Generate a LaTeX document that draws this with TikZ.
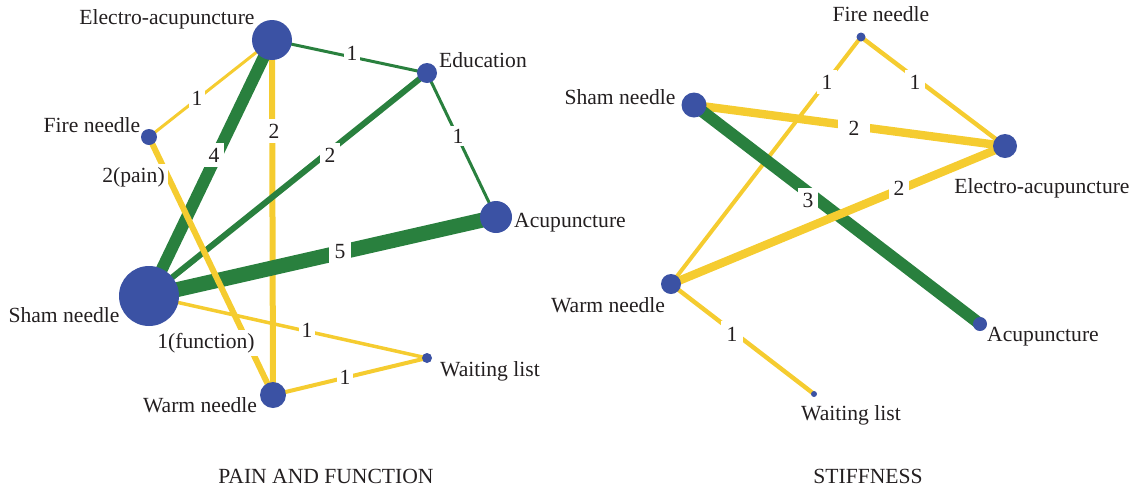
\documentclass[tikz,border=0pt]{standalone}
\usepackage{fontspec}
\setmainfont{Liberation Serif}
\usetikzlibrary{backgrounds}
\definecolor{nodeblue}{RGB}{59,82,164}
\definecolor{edgegreen}{RGB}{41,128,62}
\definecolor{edgeyellow}{RGB}{245,204,48}
\definecolor{txt}{RGB}{35,31,32}
\tikzset{
  dot/.style={circle, fill=nodeblue, draw=none, inner sep=0pt},
  lbl/.style={inner sep=0pt, anchor=base, text=txt},
  elbl/.style={fill=white, inner sep=2.3pt, text=txt},
  ge/.style={draw=edgegreen, line cap=butt},
  ye/.style={draw=edgeyellow, line cap=butt},
}
\begin{document}
\begin{tikzpicture}[x=0.5pt, y=-0.5pt, font=\fontsize{10.8}{13}\selectfont]
\useasboundingbox (0,0) rectangle (1137,489);
% ---------- left network: pain and function ----------
\node[dot, minimum size=20pt] (LEA) at (272,40) {};
\node[dot, minimum size=10pt] (LEdu) at (427,73) {};
\node[dot, minimum size=8pt] (LFire) at (149,137) {};
\node[dot, minimum size=16pt] (LAcu) at (496,217) {};
\node[dot, minimum size=30pt] (LSham) at (149,296) {};
\node[dot, minimum size=5pt] (LWait) at (427,358) {};
\node[dot, minimum size=13pt] (LWarm) at (273,395) {};
% ---------- right network: stiffness ----------
\node[dot, minimum size=4.5pt] (RFire) at (861,37) {};
\node[dot, minimum size=12.5pt] (RSham) at (694,105) {};
\node[dot, minimum size=12pt] (REA) at (1005,146) {};
\node[dot, minimum size=10pt] (RWarm) at (671,284) {};
\node[dot, minimum size=7pt] (RAcu) at (980,324) {};
\node[dot, minimum size=3pt] (RWait) at (814,394) {};
\begin{pgfonlayer}{background}
% left edges
\draw[ge, line width=1.5pt] (LEA.center) -- (LEdu.center);
\draw[ye, line width=1.5pt] (LEA.center) -- (LFire.center);
\draw[ge, line width=6pt] (LEA.center) -- (LSham.center);
\draw[ye, line width=3pt] (LEA.center) -- (LWarm.center);
\draw[ge, line width=3pt] (LEdu.center) -- (LSham.center);
\draw[ge, line width=1.5pt] (LEdu.center) -- (LAcu.center);
\draw[ge, line width=7.5pt] (LAcu.center) -- (LSham.center);
\draw[ye, line width=3pt] (LFire.center) -- (LWarm.center);
\draw[ye, line width=1.75pt] (LSham.center) -- (LWait.center);
\draw[ye, line width=2pt] (LWarm.center) -- (LWait.center);
% right edges
\draw[ye, line width=2pt] (RFire.center) -- (RWarm.center);
\draw[ye, line width=2.2pt] (RFire.center) -- (REA.center);
\draw[ye, line width=4.2pt] (RSham.center) -- (REA.center);
\draw[ge, line width=6pt] (RSham.center) -- (RAcu.center);
\draw[ye, line width=4.2pt] (RWarm.center) -- (REA.center);
\draw[ye, line width=2.2pt] (RWarm.center) -- (RWait.center);
\end{pgfonlayer}
% left edge labels
\node[elbl, inner sep=1.2pt] (l1) at (352,53) {1};
\node[elbl, inner sep=1.2pt] (l2) at (197,98) {1};
\node[elbl] (l3) at (214,155) {4};
\node[elbl] (l4) at (274,131) {2};
\node[elbl] (l5) at (330,155) {2};
\node[elbl, inner sep=1.2pt] (l6) at (458,136) {1};
\node[elbl, inner xsep=3pt] (l7) at (340,252) {5};
\node[elbl, inner sep=1.5pt] (l8) at (133.5,177) {2(pain)};
\node[elbl, inner sep=1.5pt] (l9) at (206,343) {1(function)};
\node[elbl, inner sep=1.2pt] (l10) at (307,330) {1};
\node[elbl, inner sep=1.5pt] (l11) at (345,377) {1};
% right edge labels
\node[elbl] (r1) at (827,82) {1};
\node[elbl] (r2) at (915,82) {1};
\node[elbl, inner xsep=5.5pt] (r3) at (854,128) {2};
\node[elbl] (r4) at (808,200) {3};
\node[elbl] (r5) at (899,188) {2};
\node[elbl, inner sep=3pt] (r6) at (732,334) {1};
% left node names
\node[lbl] (tLEA) at (167,24) {Electro-acupuncture};
\node[lbl] (tLEdu) at (483,67) {Education};
\node[lbl] (tLFire) at (92,132) {Fire needle};
\node[lbl] (tLAcu) at (570,227) {Acupuncture};
\node[lbl] (tLSham) at (64,322) {Sham needle};
\node[lbl] (tLWait) at (490,376) {Waiting list};
\node[lbl] (tLWarm) at (200,412) {Warm needle};
% right node names
\node[lbl] (tRFire) at (881,21) {Fire needle};
\node[lbl] (tRSham) at (620,104) {Sham needle};
\node[lbl] (tREA) at (1042,193) {Electro-acupuncture};
\node[lbl] (tRWarm) at (608,312) {Warm needle};
\node[lbl] (tRAcu) at (1043,341) {Acupuncture};
\node[lbl] (tRWait) at (851,420) {Waiting list};
% titles
\node[lbl] (titleL) at (326,483) {PAIN AND FUNCTION};
\node[lbl] (titleR) at (868,483) {STIFFNESS};
\end{tikzpicture}
\end{document}
